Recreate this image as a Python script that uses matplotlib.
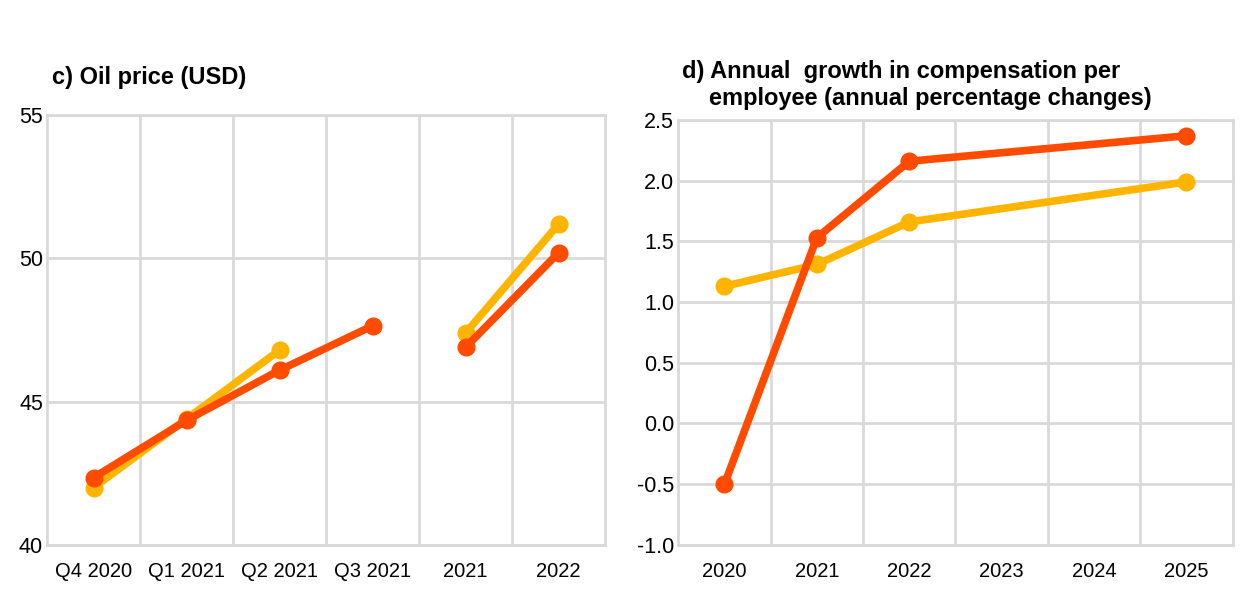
import matplotlib.pyplot as plt
import numpy as np

plt.rcParams['font.family'] = ['Liberation Sans', 'DejaVu Sans']

# panel c) oil price
oil_labels = ['Q4 2020', 'Q1 2021', 'Q2 2021', 'Q3 2021', '2021', '2022']
oil_yellow = [42.0, 44.4, 46.8, np.nan, 47.4, 51.2]
oil_red = [42.35, 44.35, 46.1, 47.65, 46.9, 50.2]

# panel d) compensation per employee
comp_labels = ['2020', '2021', '2022', '2023', '2024', '2025']
comp_yellow = [1.13, 1.31, 1.66, np.nan, np.nan, 1.99]
comp_red = [-0.5, 1.53, 2.16, np.nan, np.nan, 2.37]

YELLOW = '#FFB400'
RED = '#FF4B00'
GRID = '#D9D9D9'

fig = plt.figure(figsize=(12.4, 5.91), dpi=100)
ax1 = fig.add_axes([0.038, 0.078, 0.450, 0.727])
ax2 = fig.add_axes([0.547, 0.078, 0.447, 0.719])


def style_axis(ax, labels):
    n = len(labels)
    ax.set_xlim(-0.5, n - 0.5)
    ax.set_xticks(np.arange(n))
    ax.set_xticklabels(labels)
    ax.set_xticks(np.arange(n - 1) + 0.5, minor=True)
    ax.grid(True, which='minor', axis='x', color=GRID, lw=2)
    ax.grid(True, which='major', axis='y', color=GRID, lw=2)
    ax.tick_params(which='both', length=0, colors='black')
    ax.tick_params(axis='x', pad=12, labelsize=14.5)
    ax.tick_params(axis='y', pad=3, labelsize=15.5)
    for s in ax.spines.values():
        s.set_color(GRID)
        s.set_linewidth(2)
    ax.set_axisbelow(True)


def plot_series(ax, vals, color, z):
    x = np.arange(len(vals))
    v = np.array(vals, dtype=float)
    m = ~np.isnan(v)
    ax.plot(x[m], v[m], color=color, lw=5.5, marker='o', ms=12, zorder=z)


# c) oil: quarterly and annual parts are separate segments
style_axis(ax1, oil_labels)
ax1.set_ylim(40, 55)
ax1.set_yticks([40, 45, 50, 55])
x = np.arange(len(oil_labels))
ax1.plot(x[:3], oil_yellow[:3], color=YELLOW, lw=5.5, marker='o', ms=12, zorder=3)
ax1.plot(x[4:], oil_yellow[4:], color=YELLOW, lw=5.5, marker='o', ms=12, zorder=3)
ax1.plot(x[:4], oil_red[:4], color=RED, lw=5.5, marker='o', ms=12, zorder=4)
ax1.plot(x[4:], oil_red[4:], color=RED, lw=5.5, marker='o', ms=12, zorder=4)
fig.text(0.042, 0.858, 'c) Oil price (USD)', fontsize=17, fontweight='bold')

# d) compensation
style_axis(ax2, comp_labels)
ax2.set_ylim(-1.0, 2.5)
ax2.set_yticks(np.arange(-1.0, 2.51, 0.5))
ax2.set_yticklabels([f'{t:.1f}' for t in np.arange(-1.0, 2.51, 0.5)])
plot_series(ax2, comp_yellow, YELLOW, 3)
plot_series(ax2, comp_red, RED, 4)
fig.text(0.550, 0.868, 'd) Annual  growth in compensation per', fontsize=17, fontweight='bold')
fig.text(0.572, 0.822, 'employee (annual percentage changes)', fontsize=17, fontweight='bold')

fig.savefig('out.png', dpi=100)
